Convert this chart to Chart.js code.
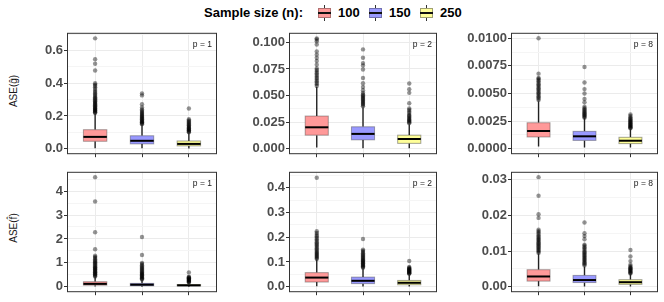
<!DOCTYPE html>
<html>
<head>
<meta charset="utf-8">
<script src="https://cdn.jsdelivr.net/npm/chart.js@4"></script>
<style>
  body { margin: 0; background: #fff; }
  #wrap { position: relative; width: 664px; height: 302px; overflow: hidden; font-family: "Liberation Sans", Arial, sans-serif; }
  canvas { position: absolute; }
  .lg { position: absolute; top: 5px; font: bold 13px "Liberation Sans", Arial, sans-serif; color: #000; line-height: 16px; white-space: nowrap; }
  .key { position: absolute; top: 5px; width: 13px; height: 16px; }
  .key .w { position: absolute; left: 6px; top: 0; width: 1px; height: 16px; background: #333; }
  .key .b { position: absolute; left: 0; top: 3px; width: 11px; height: 8px; border: 1px solid #8a7a7a; }
  .key .m { position: absolute; left: 0; top: 7px; width: 13px; height: 2px; background: #111; }
  .ylab { position: absolute; font: 10px "Liberation Sans", Arial, sans-serif; color: #1a1a1a; white-space: nowrap; transform: translate(-50%, -50%) rotate(-90deg); }
</style>
</head>
<body>
<div id="wrap">
  <span class="lg" style="left:204px">Sample size (n):</span>
  <div class="key" style="left:318px"><div class="w"></div><div class="b" style="background:#ff9999;border-color:#b07070"></div><div class="m"></div></div>
  <span class="lg" style="left:338px">100</span>
  <div class="key" style="left:369px"><div class="w"></div><div class="b" style="background:#9999ff;border-color:#7070b0"></div><div class="m"></div></div>
  <span class="lg" style="left:389px">150</span>
  <div class="key" style="left:420px"><div class="w"></div><div class="b" style="background:#ffff99;border-color:#a0a070"></div><div class="m"></div></div>
  <span class="lg" style="left:440px">250</span>

  <div class="ylab" style="left:13px;top:91px">ASE(ĝ)</div>
  <div class="ylab" style="left:13px;top:228px">ASE(f̂)</div>

  <canvas id="c1"></canvas><canvas id="c2"></canvas><canvas id="c3"></canvas>
  <canvas id="c4"></canvas><canvas id="c5"></canvas><canvas id="c6"></canvas>
</div>
<script>
// sample sizes (n)
const groups = ['100', '150', '250'];

// box stats per group: [lower whisker, q1, median, q3, upper whisker]
const g1Box = [[0.003, 0.045, 0.072, 0.116, 0.215], [0.002, 0.029, 0.048, 0.079, 0.148], [0.001, 0.017, 0.029, 0.047, 0.097]];
const g2Box = [[0.001, 0.0127, 0.0201, 0.0307, 0.058], [0.0005, 0.0083, 0.0139, 0.0206, 0.039], [0.0003, 0.005, 0.0091, 0.0127, 0.023]];
const g8Box = [[0.0002, 0.00106, 0.0016, 0.00235, 0.0043], [0.0001, 0.00075, 0.00112, 0.00157, 0.0028], [0.0001, 0.00046, 0.00072, 0.00103, 0.0018]];
const f1Box = [[0.005, 0.065, 0.12, 0.21, 0.42], [0.003, 0.04, 0.085, 0.14, 0.29], [0.002, 0.035, 0.06, 0.09, 0.17]];
const f2Box = [[0.002, 0.019, 0.037, 0.057, 0.11], [0.001, 0.0126, 0.024, 0.039, 0.075], [0.001, 0.008, 0.016, 0.0255, 0.05]];
const f8Box = [[0.0002, 0.0016, 0.0029, 0.0048, 0.0093], [0.0001, 0.0012, 0.0019, 0.0032, 0.0057], [0.0001, 0.0007, 0.0013, 0.002, 0.0036]];

// outliers per group
const g1Out = [
  [0.218, 0.222, 0.226, 0.23, 0.234, 0.238, 0.242, 0.246, 0.25, 0.255, 0.26, 0.265, 0.27, 0.275, 0.28, 0.285, 0.29, 0.296, 0.302, 0.308, 0.315, 0.322, 0.33, 0.338, 0.346, 0.355, 0.365, 0.375, 0.385, 0.392, 0.4, 0.478, 0.52, 0.547, 0.675],
  [0.15, 0.154, 0.158, 0.162, 0.166, 0.17, 0.175, 0.18, 0.185, 0.19, 0.195, 0.2, 0.206, 0.212, 0.218, 0.225, 0.232, 0.24, 0.252, 0.272, 0.326, 0.338],
  [0.1, 0.104, 0.108, 0.112, 0.116, 0.12, 0.124, 0.128, 0.133, 0.138, 0.143, 0.148, 0.154, 0.16, 0.166, 0.172, 0.18, 0.246]
];
const g2Out = [
  [0.059, 0.0605, 0.062, 0.0635, 0.065, 0.0665, 0.068, 0.0695, 0.071, 0.0725, 0.074, 0.0755, 0.079, 0.0825, 0.0855, 0.0885, 0.0915, 0.098, 0.101, 0.1027, 0.1038],
  [0.0398, 0.041, 0.042, 0.043, 0.044, 0.045, 0.046, 0.047, 0.048, 0.049, 0.05, 0.051, 0.0525, 0.055, 0.058, 0.0615, 0.0665, 0.0745, 0.0782, 0.0805, 0.0855, 0.0934],
  [0.024, 0.0248, 0.0256, 0.0264, 0.0272, 0.028, 0.029, 0.03, 0.031, 0.032, 0.0335, 0.035, 0.0365, 0.0378, 0.0427, 0.0525, 0.056, 0.0613]
];
const g8Out = [
  [0.0044, 0.00452, 0.00464, 0.00476, 0.00488, 0.005, 0.00512, 0.00524, 0.00536, 0.00548, 0.0056, 0.00572, 0.00584, 0.00596, 0.0061, 0.00622, 0.00634, 0.0064, 0.0068, 0.01],
  [0.0028, 0.00288, 0.00296, 0.00304, 0.00312, 0.0032, 0.00328, 0.00336, 0.00346, 0.00356, 0.00366, 0.0038, 0.0042, 0.0045, 0.005, 0.0054, 0.006, 0.0074],
  [0.00185, 0.0019, 0.00195, 0.002, 0.00206, 0.00212, 0.00218, 0.00224, 0.0023, 0.00237, 0.00244, 0.0025, 0.00258, 0.00266, 0.00274, 0.00284, 0.00296, 0.0031]
];
const f1Out = [
  [0.43, 0.46, 0.49, 0.52, 0.55, 0.58, 0.61, 0.64, 0.67, 0.7, 0.73, 0.76, 0.79, 0.82, 0.86, 0.9, 0.94, 0.98, 1.02, 1.06, 1.1, 1.15, 1.2, 1.25, 1.3, 1.57, 2.28, 3.57, 4.58],
  [0.3, 0.33, 0.36, 0.39, 0.42, 0.45, 0.48, 0.51, 0.54, 0.57, 0.6, 0.64, 0.68, 0.72, 0.76, 0.8, 0.85, 0.9, 0.95, 1.0, 1.33, 2.08],
  [0.18, 0.2, 0.22, 0.24, 0.26, 0.28, 0.3, 0.32, 0.34, 0.36, 0.38, 0.4, 0.42, 0.6]
];
const f2Out = [
  [0.112, 0.116, 0.12, 0.124, 0.128, 0.132, 0.136, 0.14, 0.145, 0.15, 0.155, 0.16, 0.165, 0.17, 0.175, 0.18, 0.186, 0.192, 0.198, 0.204, 0.21, 0.217, 0.224, 0.44],
  [0.077, 0.08, 0.083, 0.086, 0.089, 0.092, 0.095, 0.098, 0.101, 0.104, 0.107, 0.11, 0.114, 0.118, 0.122, 0.126, 0.13, 0.135, 0.14, 0.145, 0.15, 0.193],
  [0.052, 0.054, 0.056, 0.058, 0.06, 0.062, 0.064, 0.066, 0.068, 0.07, 0.072, 0.074, 0.077, 0.08, 0.104]
];
const f8Out = [
  [0.0095, 0.0098, 0.0101, 0.0104, 0.0107, 0.011, 0.0113, 0.0116, 0.0119, 0.0122, 0.0125, 0.0128, 0.0131, 0.0134, 0.0137, 0.014, 0.0144, 0.0148, 0.0152, 0.0156, 0.016, 0.0193, 0.0203, 0.0255, 0.0307],
  [0.006, 0.0063, 0.0066, 0.0069, 0.0072, 0.0075, 0.0078, 0.0081, 0.0084, 0.0087, 0.009, 0.0093, 0.0096, 0.0099, 0.0103, 0.0107, 0.0111, 0.0115, 0.0118, 0.0133, 0.0142, 0.015, 0.018],
  [0.0037, 0.0039, 0.0041, 0.0043, 0.0045, 0.0047, 0.0049, 0.0051, 0.0053, 0.0055, 0.0058, 0.0062, 0.0072, 0.0085, 0.0103]
];

// tick labels (major) and minor grid values
const g1Ticks = ['0.0', '0.2', '0.4', '0.6'];
const g2Ticks = ['0.000', '0.025', '0.050', '0.075', '0.100'];
const g8Ticks = ['0.0000', '0.0025', '0.0050', '0.0075', '0.0100'];
const f1Ticks = ['0', '1', '2', '3', '4'];
const f2Ticks = ['0.0', '0.1', '0.2', '0.3', '0.4'];
const f8Ticks = ['0.00', '0.01', '0.02', '0.03'];
const g1Minor = [0.1, 0.3, 0.5, 0.7];
const g2Minor = [0.0125, 0.0375, 0.0625, 0.0875];
const g8Minor = [0.00125, 0.00375, 0.00625, 0.00875];
const f1Minor = [0.5, 1.5, 2.5, 3.5, 4.5];
const f2Minor = [0.05, 0.15, 0.25, 0.35, 0.45];
const f8Minor = [0.005, 0.015, 0.025];

const fills = ['rgba(255,0,0,0.4)', 'rgba(0,0,255,0.4)', 'rgba(255,255,0,0.4)'];
const edges = ['rgba(51,51,51,0.4)', 'rgba(51,51,51,0.4)', 'rgba(51,51,51,0.45)'];

const boxPlugin = {
  id: 'boxes',
  afterDatasetsDraw(chart, args, opts) {
    const ctx = chart.ctx, xs = chart.scales.x, ys = chart.scales.y;
    const half = xs.getPixelForValue(1.25) - xs.getPixelForValue(1);
    opts.stats.forEach((s, i) => {
      const x = xs.getPixelForValue(i + 1);
      const [lo, q1, md, q3, hi] = s.map(v => ys.getPixelForValue(v));
      ctx.save();
      ctx.strokeStyle = '#222';
      ctx.lineWidth = 1.4;
      ctx.beginPath();
      ctx.moveTo(x, lo); ctx.lineTo(x, q1);
      ctx.moveTo(x, q3); ctx.lineTo(x, hi);
      ctx.stroke();
      ctx.fillStyle = '#fff';
      ctx.fillRect(x - half, q3, 2 * half, q1 - q3);
      ctx.fillStyle = fills[i];
      ctx.fillRect(x - half, q3, 2 * half, q1 - q3);
      ctx.strokeStyle = edges[i];
      ctx.lineWidth = 1;
      ctx.strokeRect(x - half, q3, 2 * half, q1 - q3);
      ctx.strokeStyle = '#000';
      ctx.lineWidth = 2;
      ctx.beginPath();
      ctx.moveTo(x - half, md); ctx.lineTo(x + half, md);
      ctx.stroke();
      ctx.restore();
    });
  },
  afterDraw(chart, args, opts) {
    const ctx = chart.ctx, a = chart.chartArea;
    ctx.save();
    ctx.strokeStyle = '#333';
    ctx.lineWidth = 1;
    ctx.strokeRect(a.left + 0.5, a.top + 0.5, a.right - a.left - 1, a.bottom - a.top - 1);
    ctx.fillStyle = '#1a1a1a';
    ctx.font = '8.5px "Liberation Sans", Arial, sans-serif';
    ctx.textAlign = 'right';
    ctx.textBaseline = 'middle';
    ctx.fillText(opts.tag, a.right - 5, a.top + 12);
    ctx.restore();
  }
};

function panel(id, pos, stats, outs, ticks, minor, lim, tag) {
  const [L, T, W, H] = pos;
  const cv = document.getElementById(id);
  cv.width = W + 66; cv.height = H + 12;
  cv.style.left = (L - 62) + 'px'; cv.style.top = (T - 4) + 'px';
  const major = ticks.map(Number);
  const all = major.concat(minor);
  const isMajor = c => c.tick && major.includes(c.tick.value);
  new Chart(cv, {
    type: 'scatter',
    data: {
      datasets: outs.map((vals, i) => ({
        label: groups[i],
        data: vals.map(v => ({ x: i + 1, y: v })),
        pointRadius: 2.2,
        pointBackgroundColor: 'rgba(0,0,0,0.42)',
        pointBorderWidth: 0
      }))
    },
    options: {
      responsive: false,
      animation: false,
      devicePixelRatio: 1,
      layout: { padding: { top: 4, right: 4, left: 0, bottom: 0 } },
      plugins: {
        legend: { display: false },
        tooltip: { enabled: false },
        boxes: { stats: stats, tag: tag }
      },
      scales: {
        x: {
          type: 'linear', min: 0.4, max: 3.6,
          afterBuildTicks: s => { s.ticks = [1, 2, 3].map(v => ({ value: v })); },
          afterFit: s => { s.height = 8; },
          ticks: { display: false },
          grid: { color: '#ebebeb', tickColor: '#333', tickLength: 3 },
          border: { display: false }
        },
        y: {
          min: lim[0], max: lim[1],
          afterBuildTicks: s => { s.ticks = all.map(v => ({ value: v })); },
          afterFit: s => { s.width = 62; },
          ticks: {
            autoSkip: false, padding: 1, color: '#4d4d4d',
            font: { family: '"Liberation Sans", Arial, sans-serif', size: 13, weight: 'bold' },
            callback: v => { const k = major.indexOf(v); return k < 0 ? '' : ticks[k]; }
          },
          grid: {
            color: c => isMajor(c) ? '#ebebeb' : '#f5f5f5',
            tickColor: c => isMajor(c) ? '#333' : 'rgba(0,0,0,0)',
            tickLength: 3
          },
          border: { display: false }
        }
      }
    },
    plugins: [boxPlugin]
  });
}

const colX = [67, 289, 511], colW = [150, 148, 147];
const rowY = [28, 167], rowH = [127, 126];

panel('c1', [colX[0], rowY[0], colW[0], rowH[0]], g1Box, g1Out, g1Ticks, g1Minor, [-0.034, 0.709], 'p = 1');
panel('c2', [colX[1], rowY[0], colW[1], rowH[0]], g2Box, g2Out, g2Ticks, g2Minor, [-0.0052, 0.109], 'p = 2');
panel('c3', [colX[2], rowY[0], colW[2], rowH[0]], g8Box, g8Out, g8Ticks, g8Minor, [-0.0005, 0.0105], 'p = 8');
panel('c4', [colX[0], rowY[1], colW[0], rowH[1]], f1Box, f1Out, f1Ticks, f1Minor, [-0.229, 4.81], 'p = 1');
panel('c5', [colX[1], rowY[1], colW[1], rowH[1]], f2Box, f2Out, f2Ticks, f2Minor, [-0.022, 0.464], 'p = 2');
panel('c6', [colX[2], rowY[1], colW[2], rowH[1]], f8Box, f8Out, f8Ticks, f8Minor, [-0.0015, 0.0322], 'p = 8');
</script>
</body>
</html>
